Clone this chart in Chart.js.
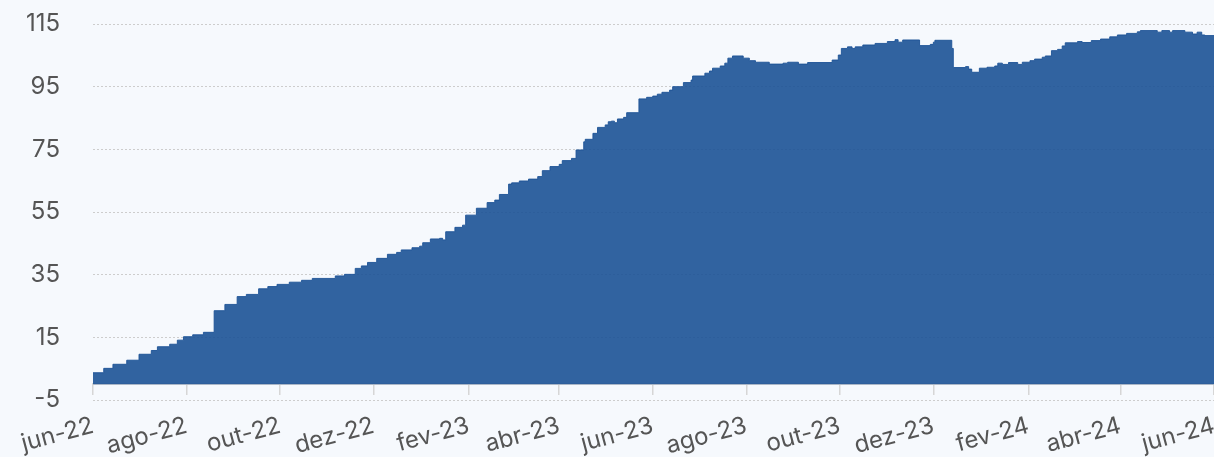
<!DOCTYPE html>
<html>
<head>
<meta charset="utf-8">
<script src="https://cdn.jsdelivr.net/npm/chart.js@4.4.0/dist/chart.umd.min.js"></script>
<style>
  html, body { margin: 0; padding: 0; background: #f6f9fd; }
  #caja { width: 1214px; height: 457px; position: relative; }
</style>
</head>
<body>
<div id="caja"><canvas id="grafico"></canvas></div>
<script>
// fechas de cada escalon y su valor
const fechas = [
  '2022-06-01','2022-06-08','2022-06-14','2022-06-23','2022-07-01','2022-07-09','2022-07-13','2022-07-21','2022-07-26','2022-07-30',
  '2022-08-05','2022-08-12','2022-08-19','2022-08-26','2022-09-03','2022-09-09','2022-09-17','2022-09-23','2022-09-29','2022-10-07',
  '2022-10-15','2022-10-22','2022-11-06','2022-11-12','2022-11-19','2022-11-23','2022-11-27','2022-12-03','2022-12-10','2022-12-16',
  '2022-12-19','2022-12-26','2022-12-31','2023-01-02','2023-01-07','2023-01-13','2023-01-15','2023-01-17','2023-01-23','2023-01-28',
  '2023-01-30','2023-02-06','2023-02-13','2023-02-18','2023-02-21','2023-02-27','2023-03-01','2023-03-06','2023-03-12','2023-03-18',
  '2023-03-21','2023-03-26','2023-04-01','2023-04-03','2023-04-09','2023-04-12','2023-04-17','2023-04-18','2023-04-23','2023-04-26',
  '2023-05-01','2023-05-03','2023-05-05','2023-05-07','2023-05-09','2023-05-13','2023-05-15','2023-05-23','2023-05-28','2023-06-01',
  '2023-06-04','2023-06-07','2023-06-12','2023-06-14','2023-06-21','2023-06-26','2023-06-27','2023-07-05','2023-07-08','2023-07-10',
  '2023-07-15','2023-07-18','2023-07-20','2023-07-23','2023-07-30','2023-08-03','2023-08-07','2023-08-16','2023-08-25','2023-08-28',
  '2023-09-04','2023-09-10','2023-09-26','2023-09-30','2023-10-02','2023-10-06','2023-10-09','2023-10-11','2023-10-16','2023-10-24',
  '2023-11-01','2023-11-06','2023-11-08','2023-11-11','2023-11-22','2023-11-29','2023-12-01','2023-12-02','2023-12-13','2023-12-14',
  '2023-12-22','2023-12-24','2023-12-26','2023-12-31','2024-01-05','2024-01-10','2024-01-12','2024-01-15','2024-01-19','2024-01-25',
  '2024-01-28','2024-02-02','2024-02-05','2024-02-10','2024-02-12','2024-02-16','2024-02-20','2024-02-23','2024-02-25','2024-03-04',
  '2024-03-07','2024-03-13','2024-03-19','2024-03-25','2024-03-30','2024-04-05','2024-04-12','2024-04-14','2024-04-25','2024-04-28',
  '2024-05-03','2024-05-05','2024-05-13','2024-05-18','2024-05-21','2024-05-24','2024-05-26','2024-06-01'
];
const valores = [
  3.7, 5.1, 6.4, 7.7, 9.6, 10.8, 12.0, 12.8, 14.1, 15.2,
  15.8, 16.6, 23.5, 25.5, 28.0, 28.7, 30.5, 31.2, 31.9, 32.6,
  33.2, 33.8, 34.6, 35.1, 37.0, 37.8, 38.9, 40.2, 41.5, 42.1,
  42.9, 43.6, 44.1, 45.2, 46.4, 46.6, 46.1, 48.7, 50.1, 50.8,
  54.0, 56.2, 58.0, 58.8, 60.6, 63.9, 64.3, 64.9, 65.5, 66.3,
  68.2, 69.5, 70.2, 71.4, 72.1, 74.8, 77.4, 78.2, 80.1, 82.0,
  82.8, 83.8, 84.0, 83.5, 84.7, 85.2, 86.7, 91.1, 91.6, 92.0,
  92.6, 93.2, 93.9, 95.0, 96.3, 97.1, 98.4, 99.3, 100.0, 100.9,
  101.6, 102.5, 104.1, 104.8, 104.1, 103.3, 102.8, 102.2, 102.5, 102.8,
  102.2, 102.7, 103.5, 105.1, 107.2, 107.7, 107.2, 107.7, 108.3, 108.8,
  109.4, 110.0, 109.2, 109.9, 108.1, 108.5, 109.2, 109.8, 107.2, 101.1,
  101.4, 100.6, 99.6, 100.9, 101.2, 101.6, 102.5, 102.1, 102.7, 102.1,
  102.8, 103.3, 103.8, 104.4, 104.8, 106.5, 106.9, 108.0, 109.0, 109.4,
  109.1, 109.7, 110.2, 110.9, 111.5, 112.0, 112.5, 112.9, 112.4, 112.9,
  112.4, 112.9, 112.4, 111.8, 112.4, 111.5, 111.3, 111.3
];
const fechasTicks = ['2022-06-01','2022-08-01','2022-10-01','2022-12-01','2023-02-01','2023-04-01','2023-06-01',
  '2023-08-01','2023-10-01','2023-12-01','2024-02-01','2024-04-01','2024-06-01'];
const etiquetasTicks = ['jun-22','ago-22','out-22','dez-22','fev-23','abr-23','jun-23',
  'ago-23','out-23','dez-23','fev-24','abr-24','jun-24'];

const dia = f => Date.parse(f);
const puntos = fechas.map((f, i) => ({ x: dia(f), y: valores[i] }));
const fuente = { family: 'Inter', size: 24 };

new Chart(document.getElementById('grafico'), {
  type: 'line',
  data: {
    datasets: [{
      data: puntos,
      stepped: true,
      fill: 'origin',
      backgroundColor: 'rgba(28, 82, 150, 0.9)',
      borderColor: 'rgba(28, 82, 150, 0.9)',
      borderWidth: 1,
      pointRadius: 0
    }]
  },
  options: {
    responsive: true,
    maintainAspectRatio: false,
    animation: false,
    layout: { padding: { top: 24, bottom: 57, left: 0, right: 0 } },
    plugins: { legend: { display: false }, tooltip: { enabled: false } },
    scales: {
      x: {
        type: 'linear',
        position: { y: 0 },
        min: dia(fechasTicks[0]),
        max: dia(fechasTicks[fechasTicks.length - 1]),
        afterBuildTicks: eje => { eje.ticks = fechasTicks.map(f => ({ value: dia(f) })); },
        afterCalculateLabelRotation: eje => { eje.labelRotation = 15; },
        afterFit: eje => { eje.paddingLeft = 0; eje.paddingRight = 0; },
        ticks: {
          autoSkip: false,
          minRotation: 15,
          maxRotation: 15,
          padding: 17,
          color: '#555',
          font: fuente,
          callback: (v, i) => etiquetasTicks[i]
        },
        grid: { drawOnChartArea: false, drawTicks: true, tickLength: 10, color: '#d6d6d6', lineWidth: 1.5 },
        border: { display: true, color: '#d6d6d6', width: 2 }
      },
      y: {
        min: -5,
        max: 115,
        ticks: { stepSize: 20, padding: 33, color: '#555', font: fuente },
        grid: { color: '#cdcdcd', drawTicks: false, lineWidth: 1 },
        border: { display: false, dash: [2, 2] },
        afterFit: eje => { eje.width = 93; eje.paddingTop = 0; eje.paddingBottom = 0; }
      }
    }
  }
});
</script>
</body>
</html>
